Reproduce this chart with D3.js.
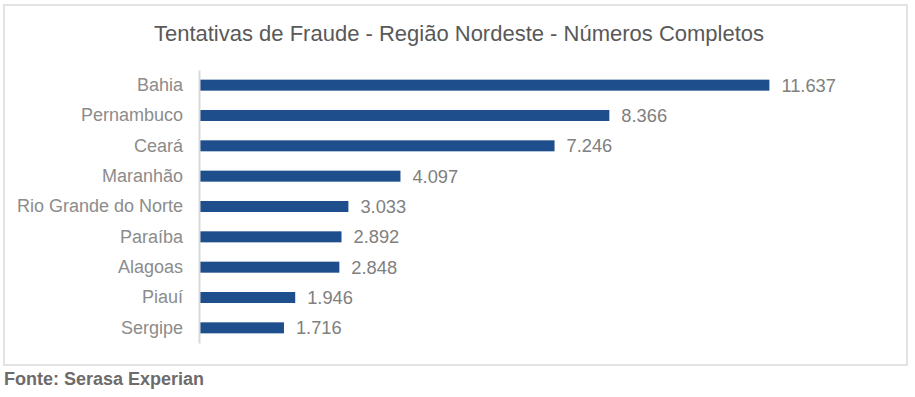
<!DOCTYPE html>
<html>
<head>
<meta charset="utf-8">
<script src="https://cdn.jsdelivr.net/npm/d3@7"></script>
<style>
  html, body { margin: 0; padding: 0; background: #fff; }
  svg { display: block; }
</style>
</head>
<body>
<div id="chart"></div>
<script>
// data
const estados = ["Bahia", "Pernambuco", "Ceará", "Maranhão", "Rio Grande do Norte", "Paraíba", "Alagoas", "Piauí", "Sergipe"];
const tentativas = [11637, 8366, 7246, 4097, 3033, 2892, 2848, 1946, 1716];
const titulo = "Tentativas de Fraude - Região Nordeste - Números Completos";
const fonte = "Fonte: Serasa Experian";

const width = 915, height = 397;
const font = "'Liberation Sans', Arial, sans-serif";

const ptBR = d3.formatLocale({ decimal: ",", thousands: ".", grouping: [3], currency: ["R$", ""] });
const fmt = ptBR.format(",d");

const svg = d3.select("#chart").append("svg")
  .attr("width", width)
  .attr("height", height);

// outer frame
svg.append("rect")
  .attr("x", 4).attr("y", 5)
  .attr("width", 903).attr("height", 360)
  .attr("fill", "#fff")
  .attr("stroke", "#e3e3e3")
  .attr("stroke-width", 2);

svg.append("text")
  .attr("x", 459).attr("y", 41)
  .attr("text-anchor", "middle")
  .attr("font-family", font)
  .attr("font-size", "22px")
  .attr("fill", "#595959")
  .text(titulo);

/* Scales */
const x = d3.scaleLinear()
  .domain([0, 14000])
  .range([200, 885]);

const y = d3.scaleBand()
  .domain(estados)
  .range([70, 343])
  .paddingInner(0.637)
  .paddingOuter(0.318);

/* Bars */
svg.append("g")
  .selectAll("rect")
  .data(estados).enter()
  .append("rect")
  .attr("x", x(0))
  .attr("y", d => y(d))
  .attr("width", (d, i) => x(tentativas[i]) - x(0))
  .attr("height", y.bandwidth())
  .attr("fill", "#1f4e8c");

/* Value labels */
svg.append("g")
  .selectAll("text")
  .data(estados).enter()
  .append("text")
  .attr("x", (d, i) => x(tentativas[i]) + 12)
  .attr("y", d => y(d) + y.bandwidth() / 2)
  .attr("dy", "0.36em")
  .attr("font-family", font)
  .attr("font-size", "18.3px")
  .attr("fill", "#808080")
  .text((d, i) => fmt(tentativas[i]));

/* Category axis */
const yAxis = d3.axisLeft(y).tickSize(0).tickPadding(16);
const ax = svg.append("g")
  .attr("transform", `translate(${x(0) - 1}, 0)`)
  .call(yAxis);
ax.select(".domain")
  .attr("stroke", "#d9d9d9")
  .attr("stroke-width", 2);
ax.selectAll("text")
  .attr("font-family", font)
  .attr("font-size", "18px")
  .attr("fill", "#8c8c8c");

svg.append("text")
  .attr("x", 4).attr("y", 385)
  .attr("font-family", font)
  .attr("font-size", "18px")
  .attr("font-weight", "bold")
  .attr("fill", "#6e6b6b")
  .text(fonte);
</script>
</body>
</html>
